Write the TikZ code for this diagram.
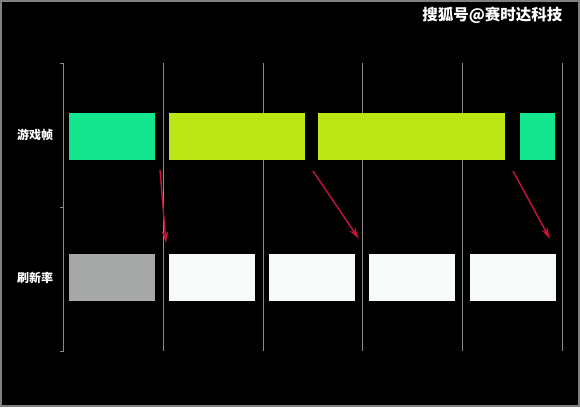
\documentclass[tikz,border=0pt]{standalone}
\usepackage{fontspec}
\newfontfamily\cjk{Noto Sans CJK SC}
\usetikzlibrary{arrows.meta}

\definecolor{gamegreen}{HTML}{13E58E}
\definecolor{gamelime}{HTML}{BCE614}
\definecolor{scangray}{HTML}{A7A9A8}
\definecolor{scanwhite}{HTML}{F6FAF8}
\definecolor{linkred}{HTML}{C8143C}
\definecolor{gridgray}{HTML}{8A8A8A}

\tikzset{
  slot/.style={draw=none, inner sep=0pt, minimum height=47pt},
  vsync/.style={gridgray, line width=0.8pt},
  link/.style={linkred, line width=1.4pt, -{Stealth[length=12pt, width=6.5pt]}},
  rowlabel/.style={white, font=\cjk\bfseries\fontsize{12}{12}\selectfont}
}

\begin{document}
\begin{tikzpicture}[x=1pt, y=-1pt]
      \draw[fill=black, draw=gray, line width=2pt] (1, 1) rectangle (579, 406);

      % time grid
      \draw[vsync] (60, 63) -- (63, 63) -- (63, 351) -- (60, 351);
      \draw[vsync] (60, 207) -- (63, 207);
      \draw[vsync] (163, 63) -- (163, 351);
      \draw[vsync] (263, 63) -- (263, 351);
      \draw[vsync] (362, 63) -- (362, 351);
      \draw[vsync] (462, 63) -- (462, 351);
      \draw[vsync] (562, 63) -- (562, 351);

      \node[rowlabel] (game) at (35, 135) {游戏帧};
      \node[rowlabel] (refresh) at (35, 278) {刷新率};

      % game frames
      \node[slot, fill=gamegreen, minimum width=86pt] (f1) at (112, 136.5) {};
      \node[slot, fill=gamelime, minimum width=136pt] (f2) at (237, 136.5) {};
      \node[slot, fill=gamelime, minimum width=187pt] (f3) at (411.5, 136.5) {};
      \node[slot, fill=gamegreen, minimum width=35pt] (f4) at (537.5, 136.5) {};

      % refreshes
      \node[slot, fill=scangray, minimum width=86pt] (r1) at (112, 277.5) {};
      \node[slot, fill=scanwhite, minimum width=86pt] (r2) at (211.5, 277.5) {};
      \node[slot, fill=scanwhite, minimum width=86pt] (r3) at (312, 277.5) {};
      \node[slot, fill=scanwhite, minimum width=86pt] (r4) at (412, 277.5) {};
      \node[slot, fill=scanwhite, minimum width=86pt] (r5) at (512.5, 277.5) {};

      \coordinate (d1) at (160, 170);
      \coordinate (d2) at (313, 171);
      \coordinate (d3) at (513, 171);
      \coordinate (s1) at (166, 243);
      \coordinate (s2) at (359, 239);
      \coordinate (s3) at (550, 239);
      \draw[link] (d1) -- (s1);
      \draw[link] (d2) -- (s2);
      \draw[link] (d3) -- (s3);

      \node[white, font=\cjk\bfseries\fontsize{15.5}{15.5}\selectfont, anchor=east] (mark) at (566, 15) {搜狐号@赛时达科技};
\end{tikzpicture}
\end{document}
